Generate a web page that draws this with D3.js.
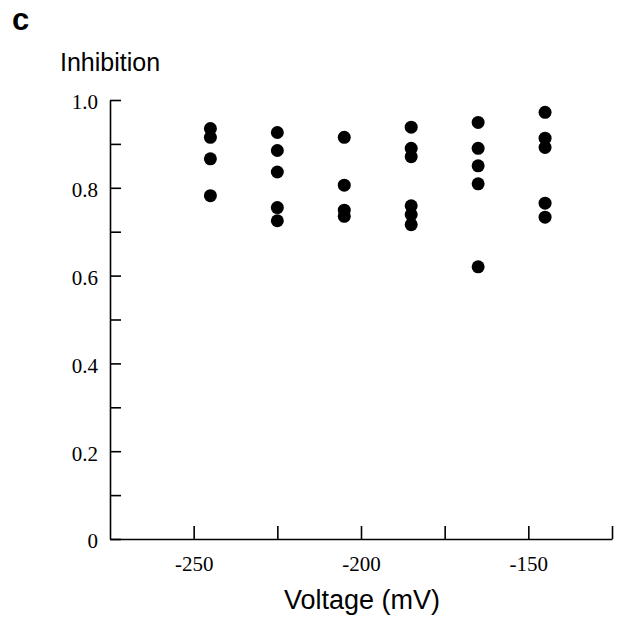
<!DOCTYPE html>
<html>
<head>
<meta charset="utf-8">
<script src="https://cdn.jsdelivr.net/npm/d3@7"></script>
<style>
  body { margin: 0; background: #fff; }
  .axis path, .axis line { stroke: #000; stroke-width: 1.6px; }
  .axis text { font-family: "Liberation Serif", "Times New Roman", serif; font-size: 21px; fill: #000; }
</style>
</head>
<body>
<script>
// data
var voltages = [-245, -225, -205, -185, -165, -145];
var inhibition = [
  [0.935, 0.915, 0.866, 0.782],
  [0.926, 0.885, 0.836, 0.755, 0.725],
  [0.915, 0.806, 0.749, 0.735],
  [0.938, 0.890, 0.871, 0.759, 0.739, 0.716],
  [0.949, 0.890, 0.850, 0.809, 0.620],
  [0.972, 0.913, 0.892, 0.765, 0.733]
];
var xTicks = [-250, -225, -200, -175, -150, -125];
var xLabels = [-250, -200, -150];
var yTicks = [0, 0.1, 0.2, 0.3, 0.4, 0.5, 0.6, 0.7, 0.8, 0.9, 1.0];
var yLabels = [0, 0.2, 0.4, 0.6, 0.8, 1.0];

var margin = {top: 100, right: 7, bottom: 80, left: 110};
var width = 619 - margin.left - margin.right,
    height = 619 - margin.top - margin.bottom;

var svg = d3.select("body").append("svg")
    .attr("width", 619)
    .attr("height", 619);

var g = svg.append("g")
    .attr("transform", "translate(" + margin.left + "," + margin.top + ")");

var x = d3.scaleLinear().domain([-275, -125]).range([0, width]);
var y = d3.scaleLinear().domain([0, 1]).range([height, 0]);

// x axis
g.append("g")
    .attr("class", "axis")
    .attr("transform", "translate(0," + height + ")")
    .call(d3.axisBottom(x)
        .tickValues(xTicks)
        .tickSizeInner(-13)
        .tickSizeOuter(0)
        .tickPadding(17)
        .tickFormat(function(d) { return xLabels.indexOf(d) >= 0 ? d : ""; }));

// y axis
var yAxis = g.append("g")
    .attr("class", "axis")
    .call(d3.axisLeft(y)
        .tickValues(yTicks)
        .tickSizeInner(-11)
        .tickSizeOuter(0)
        .tickPadding(12)
        .tickFormat(function(d) {
          var lab = yLabels.find(function(v) { return Math.abs(v - d) < 1e-6; });
          if (lab === undefined) return "";
          return lab === 0 ? "0" : d3.format(".1f")(lab);
        }));
yAxis.selectAll("text").attr("dy", "0.42em");

// points
var pts = [];
voltages.forEach(function(v, i) {
  inhibition[i].forEach(function(val) { pts.push({v: v, val: val}); });
});

g.selectAll("circle.dot")
    .data(pts)
    .enter().append("circle")
    .attr("class", "dot")
    .attr("cx", function(d) { return x(d.v); })
    .attr("cy", function(d) { return y(d.val); })
    .attr("r", 6.5)
    .attr("fill", "#000");

// labels
svg.append("text")
    .attr("x", 12)
    .attr("y", 30)
    .style("font-family", "Liberation Sans, Arial, sans-serif")
    .style("font-weight", "bold")
    .style("font-size", "31px")
    .text("c");

svg.append("text")
    .attr("x", 60)
    .attr("y", 71)
    .style("font-family", "Liberation Sans, Arial, sans-serif")
    .style("font-size", "25px")
    .text("Inhibition");

svg.append("text")
    .attr("x", 362)
    .attr("y", 609)
    .style("text-anchor", "middle")
    .style("font-family", "Liberation Sans, Arial, sans-serif")
    .style("font-size", "27px")
    .text("Voltage (mV)");
</script>
</body>
</html>
